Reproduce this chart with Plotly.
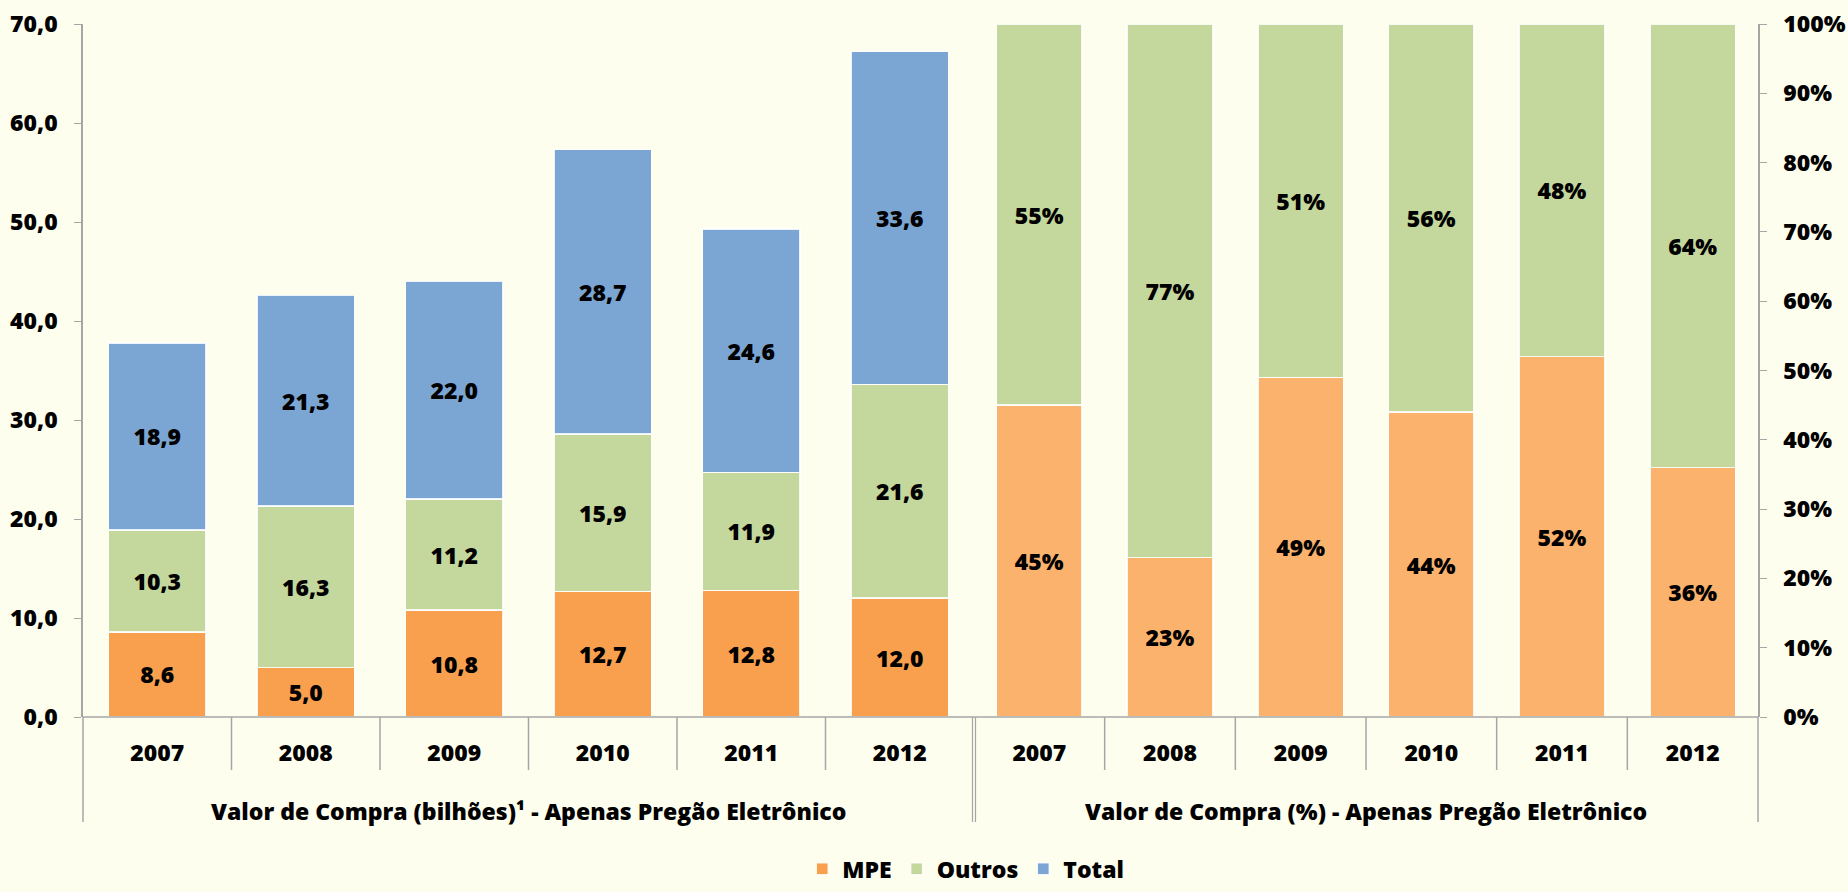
import plotly.graph_objects as go

years = ["2007", "2008", "2009", "2010", "2011", "2012"]
mpe_val = [8.6, 5.0, 10.8, 12.7, 12.8, 12.0]
outros_val = [10.3, 16.3, 11.2, 15.9, 11.9, 21.6]
total_val = [18.9, 21.3, 22.0, 28.7, 24.6, 33.6]
mpe_pct = [45, 23, 49, 44, 52, 36]
outros_pct = [55, 77, 51, 56, 48, 64]
group_left = "Valor de Compra (bilhões)¹ - Apenas Pregão Eletrônico"
group_right = "Valor de Compra (%) - Apenas Pregão Eletrônico"
left_ticks = [0, 10, 20, 30, 40, 50, 60, 70]
right_ticks = [0, 10, 20, 30, 40, 50, 60, 70, 80, 90, 100]
right_ticktext = [f"{v}%" for v in right_ticks]

C_MPE = "#F9A04F"
C_MPE_R = "#FBB26D"
C_OUT = "#C4D79C"
C_TOT = "#7BA5D3"
BG = "#FEFEEE"
GRID = "#A6A6A6"
FONT = "Open Sans"
FS = 23

edge = dict(color="rgba(255,255,255,0.85)", width=1.5)
tfont = dict(family=FONT, size=FS, color="black", weight=800)

fig = go.Figure()
fig.add_trace(go.Bar(x=years, y=mpe_val, name="MPE", marker=dict(color=C_MPE, line=edge),
                     texttemplate="%{y:.1f}", xaxis="x", yaxis="y"))
fig.add_trace(go.Bar(x=years, y=outros_val, name="Outros", marker=dict(color=C_OUT, line=edge),
                     texttemplate="%{y:.1f}", xaxis="x", yaxis="y"))
fig.add_trace(go.Bar(x=years, y=total_val, name="Total", marker=dict(color=C_TOT, line=edge),
                     texttemplate="%{y:.1f}", xaxis="x", yaxis="y"))
fig.add_trace(go.Bar(x=years, y=mpe_pct, name="MPE", showlegend=False,
                     marker=dict(color=C_MPE_R, line=edge),
                     texttemplate="%{y:.0f}%", xaxis="x2", yaxis="y2"))
fig.add_trace(go.Bar(x=years, y=outros_pct, name="Outros", showlegend=False,
                     marker=dict(color=C_OUT, line=edge),
                     texttemplate="%{y:.0f}%", xaxis="x2", yaxis="y2"))
fig.update_traces(textposition="inside", insidetextanchor="middle", textfont=tfont,
                  textangle=0, constraintext="none", hoverinfo="skip")

split = (974 - 83) / 1675

xcommon = dict(type="category", showline=False, showgrid=False, zeroline=False,
               ticks="outside", ticklen=15, tickcolor="rgba(0,0,0,0)",
               tickfont=tfont, fixedrange=True, automargin=False)
ph = 717 - 24
fig.update_layout(
    width=1848, height=892,
    margin=dict(l=83, r=90, t=24, b=175),
    paper_bgcolor=BG, plot_bgcolor=BG,
    separators=",.",
    barmode="stack", bargap=0.345,
    font=dict(family=FONT, size=FS, color="black"),
    showlegend=True,
    legend=dict(orientation="h", x=0.527, xanchor="center",
                yref="container", y=0.002, yanchor="bottom",
                font=dict(family=FONT, size=FS, color="black", weight=800),
                bgcolor="rgba(0,0,0,0)", traceorder="normal", itemwidth=30),
    xaxis=dict(domain=[0, split], anchor="y", **xcommon),
    xaxis2=dict(domain=[split, 1], anchor="y2", **xcommon),
    yaxis=dict(range=[0, 70], tickvals=left_ticks, tickformat=".1f", side="left", anchor="x",
               showgrid=False, zeroline=False, showline=True, linecolor=GRID, linewidth=1.5,
               ticks="outside", ticklen=7, tickcolor=GRID, tickfont=tfont,
               ticklabelstandoff=12, fixedrange=True, automargin=False),
    yaxis2=dict(range=[0, 100], tickvals=right_ticks, ticktext=right_ticktext, side="right",
                anchor="x2",
                showgrid=False, zeroline=False, showline=True, linecolor=GRID, linewidth=1.5,
                ticks="outside", ticklen=7, tickcolor=GRID, tickfont=tfont,
                ticklabelstandoff=12, fixedrange=True, automargin=False),
)

# axis baseline and divider lines (decoration)
y_tick_end = -(770 - 717) / ph
y_long_end = -(822 - 717) / ph
shapes = []
shapes.append(dict(type="line", xref="paper", yref="paper", x0=0, x1=1, y0=0, y1=0,
                   line=dict(color=GRID, width=1.5)))
for i in range(1, len(years)):
    for xr in ("x", "x2"):
        shapes.append(dict(type="line", xref=xr, yref="paper", x0=i - 0.5, x1=i - 0.5,
                           y0=0, y1=y_tick_end, line=dict(color=GRID, width=1.5)))
for xp in (0, 1):
    shapes.append(dict(type="line", xref="paper", yref="paper", x0=xp, x1=xp,
                       y0=0, y1=y_long_end, line=dict(color=GRID, width=1.5)))
for dx in (-1.5, 1.5):
    shapes.append(dict(type="line", xref="paper", yref="paper", x0=split + dx / 1675, x1=split + dx / 1675,
                       y0=0, y1=y_long_end, line=dict(color=GRID, width=1.2)))
fig.update_layout(shapes=shapes)

y_title = -(811 - 717) / ph
fig.add_annotation(text=group_left, xref="paper", yref="paper", x=split / 2, y=y_title,
                   showarrow=False, font=tfont, xanchor="center", yanchor="middle")
fig.add_annotation(text=group_right, xref="paper", yref="paper", x=(split + 1) / 2, y=y_title,
                   showarrow=False, font=tfont, xanchor="center", yanchor="middle")

fig.write_html("out.html", config={"displayModeBar": False},
               post_script="document.body.style.margin='0';")
